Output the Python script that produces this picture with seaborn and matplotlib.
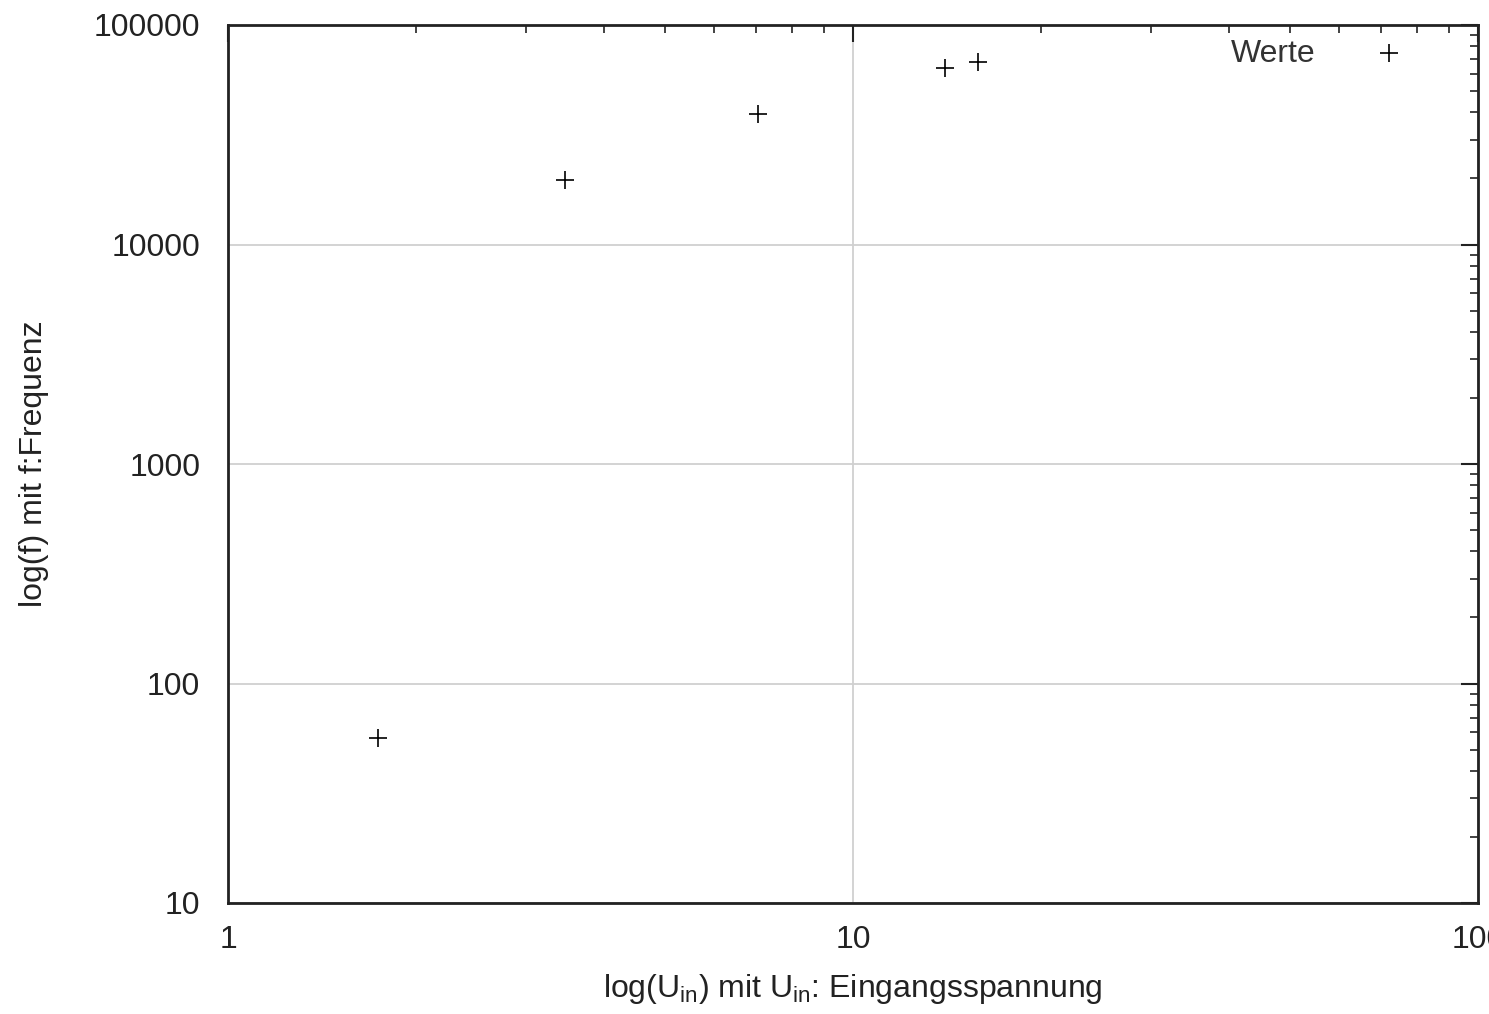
import matplotlib
matplotlib.use("Agg")
import matplotlib.pyplot as plt
import seaborn as sns
import pandas as pd
from matplotlib.ticker import LogLocator, FixedLocator, NullFormatter

# data
u_in = [1.74, 3.46, 7.05, 14.05, 15.85]
freq = [56.5, 19700, 39300, 63700, 67800]
series_label = "Werte"
x_ticks = [1, 10, 100]
x_tick_labels = ["1", "10", "100"]
y_ticks = [10, 100, 1000, 10000, 100000]
y_tick_labels = ["10", "100", "1000", "10000", "100000"]

sns.set_theme(style="white")
plt.rcParams['font.family'] = ['Liberation Sans', 'DejaVu Sans']
plt.rcParams['mathtext.fontset'] = 'custom'
plt.rcParams['mathtext.rm'] = 'Liberation Sans'
plt.rcParams['mathtext.it'] = 'Liberation Sans'

df = pd.DataFrame({"U": u_in, "f": freq})

fig = plt.figure(figsize=(14.89, 10.14), dpi=100)
ax = fig.add_axes([228/1489, 1 - 903/1014, 1250/1489, 878/1014])

sns.scatterplot(data=df, x="U", y="f", marker="+", s=150, color="black",
                linewidth=1.2, label=series_label, ax=ax, zorder=3)

ax.set_xscale("log")
ax.set_yscale("log")
ax.set_xlim(1, 100)
ax.set_ylim(10, 100000)

ax.xaxis.set_major_locator(FixedLocator(x_ticks))
ax.set_xticklabels(x_tick_labels)
ax.yaxis.set_major_locator(FixedLocator(y_ticks))
ax.set_yticklabels(y_tick_labels)
ax.xaxis.set_minor_locator(LogLocator(base=10, subs=range(2, 10)))
ax.yaxis.set_minor_locator(LogLocator(base=10, subs=range(2, 10)))
ax.xaxis.set_minor_formatter(NullFormatter())
ax.yaxis.set_minor_formatter(NullFormatter())

ax.tick_params(which="major", direction="in", length=12, width=1.5,
               top=True, right=True, labelsize=23, colors="#222222")
ax.tick_params(axis="x", which="major", pad=16)
ax.tick_params(axis="y", which="major", pad=20)
ax.tick_params(which="minor", direction="in", length=6, width=1.2,
               top=True, right=True, colors="#222222")

ax.grid(True, which="major", color="#d0d0d0", linewidth=1.3)
for sp in ax.spines.values():
    sp.set_color("#222222")
    sp.set_linewidth(2)

ax.set_xlabel(r"log(U$_{\rm in}$) mit U$_{\rm in}$: Eingangsspannung",
              fontsize=23, color="#222222", labelpad=12)
ax.set_ylabel("log(f) mit f:Frequenz", fontsize=23, color="#222222",
              labelpad=32)

leg = ax.legend(loc="upper right", markerfirst=False, frameon=False,
                fontsize=23, handletextpad=1.3, borderaxespad=0.3,
                bbox_to_anchor=(0.972, 1.01))
for t in leg.get_texts():
    t.set_color("#333333")

fig.savefig("out.png", dpi=100, facecolor="white")
